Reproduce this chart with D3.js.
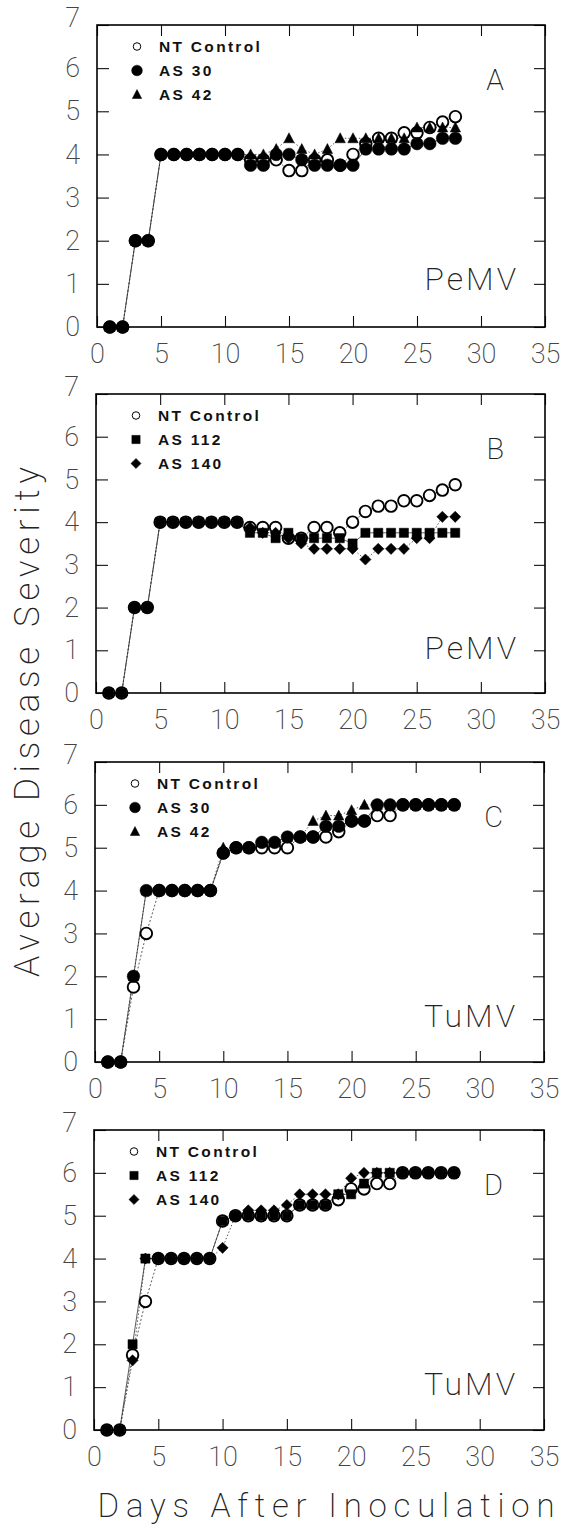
<!DOCTYPE html>
<html>
<head>
<meta charset="utf-8">
<title>Average Disease Severity</title>
<script src="https://cdn.jsdelivr.net/npm/d3@7"></script>
<style>
  body { margin: 0; background: #fff; }
  text { font-family: Roboto, "Liberation Sans", sans-serif; }
</style>
</head>
<body>
<script>
// days after inoculation
var days = [1, 2, 3, 4, 5, 6, 7, 8, 9, 10, 11, 12, 13, 14, 15, 16, 17, 18, 19, 20, 21, 22, 23, 24, 25, 26, 27, 28];
var xTicks = [0, 5, 10, 15, 20, 25, 30, 35];
var yTicks = [0, 1, 2, 3, 4, 5, 6, 7];

// PeMV
var ntA = [0, 0, 2, 2, 4, 4, 4, 4, 4, 4, 4, 3.875, 3.875, 3.875, 3.625, 3.625, 3.875, 3.875, 3.75, 4, 4.25, 4.375, 4.375, 4.5, 4.5, 4.625, 4.75, 4.875];
var as30A = [0, 0, 2, 2, 4, 4, 4, 4, 4, 4, 4, 3.75, 3.75, 4, 4, 3.875, 3.75, 3.75, 3.75, 3.75, 4.125, 4.125, 4.125, 4.125, 4.25, 4.25, 4.375, 4.375];
var as42A = [0, 0, 2, 2, 4, 4, 4, 4, 4, 4, 4, 4, 4, 4.125, 4.375, 4.125, 4, 4.125, 4.375, 4.375, 4.375, 4.375, 4.375, 4.375, 4.625, 4.625, 4.625, 4.625];

var ntB = [0, 0, 2, 2, 4, 4, 4, 4, 4, 4, 4, 3.875, 3.875, 3.875, 3.625, 3.625, 3.875, 3.875, 3.75, 4, 4.25, 4.375, 4.375, 4.5, 4.5, 4.625, 4.75, 4.875];
var as112B = [0, 0, 2, 2, 4, 4, 4, 4, 4, 4, 4, 3.75, 3.75, 3.625, 3.75, 3.625, 3.625, 3.625, 3.625, 3.5, 3.75, 3.75, 3.75, 3.75, 3.75, 3.75, 3.75, 3.75];
var as140B = [0, 0, 2, 2, 4, 4, 4, 4, 4, 4, 4, 3.875, 3.75, 3.75, 3.625, 3.5, 3.375, 3.375, 3.375, 3.375, 3.125, 3.375, 3.375, 3.375, 3.625, 3.625, 4.125, 4.125];

// TuMV
var ntC = [0, 0, 1.75, 3, 4, 4, 4, 4, 4, 4.875, 5, 5, 5, 5, 5, 5.25, 5.25, 5.25, 5.375, 5.625, 5.625, 5.75, 5.75, 6, 6, 6, 6, 6];
var as30C = [0, 0, 2, 4, 4, 4, 4, 4, 4, 4.875, 5, 5, 5.125, 5.125, 5.25, 5.25, 5.25, 5.5, 5.5, 5.625, 5.625, 6, 6, 6, 6, 6, 6, 6];
var as42C = [0, 0, 2, 4, 4, 4, 4, 4, 4, 5, 5, 5, 5.125, 5.125, 5.25, 5.25, 5.625, 5.75, 5.75, 5.875, 6, 6, 6, 6, 6, 6, 6, 6];

var ntD = [0, 0, 1.75, 3, 4, 4, 4, 4, 4, 4.875, 5, 5, 5, 5, 5, 5.25, 5.25, 5.25, 5.375, 5.625, 5.625, 5.75, 5.75, 6, 6, 6, 6, 6];
var as112D = [0, 0, 2, 4, 4, 4, 4, 4, 4, 4.875, 5, 5, 5, 5, 5, 5.25, 5.25, 5.25, 5.5, 5.5, 5.75, 6, 6, 6, 6, 6, 6, 6];
var as140D = [0, 0, 1.625, 4, 4, 4, 4, 4, 4, 4.25, 5, 5.125, 5.125, 5.125, 5.25, 5.5, 5.5, 5.5, 5.5, 5.875, 6, 6, 6, 6, 6, 6, 6, 6];

var panels = [
  { letter: "A", virus: "PeMV", left: 97, right: 545, top: 25, bottom: 327,
    series: [{ name: "NT Control", values: ntA, shape: "open" },
             { name: "AS 42", values: as42A, shape: "triangle" },
             { name: "AS 30", values: as30A, shape: "circle" }],
    legend: ["NT Control", "AS 30", "AS 42"] },
  { letter: "B", virus: "PeMV", left: 96, right: 545, top: 394, bottom: 693,
    series: [{ name: "NT Control", values: ntB, shape: "open" },
             { name: "AS 140", values: as140B, shape: "diamond" },
             { name: "AS 112", values: as112B, shape: "square" }],
    legend: ["NT Control", "AS 112", "AS 140"] },
  { letter: "C", virus: "TuMV", left: 95, right: 544, top: 762, bottom: 1062,
    series: [{ name: "NT Control", values: ntC, shape: "open" },
             { name: "AS 42", values: as42C, shape: "triangle" },
             { name: "AS 30", values: as30C, shape: "circle" }],
    legend: ["NT Control", "AS 30", "AS 42"] },
  { letter: "D", virus: "TuMV", left: 94, right: 544, top: 1130, bottom: 1430,
    series: [{ name: "NT Control", values: ntD, shape: "open" },
             { name: "AS 140", values: as140D, shape: "diamond" },
             { name: "AS 112", values: as112D, shape: "square" }],
    legend: ["NT Control", "AS 112", "AS 140"] }
];

// marker path, s = scale
function shapePath(shape, s) {
  if (shape == "open" || shape == "circle") {
    var r = 6.3 * s;
    return "M" + (-r) + ",0A" + r + "," + r + " 0 1,0 " + r + ",0A" + r + "," + r + " 0 1,0 " + (-r) + ",0Z";
  }
  if (shape == "triangle") {
    var h = 5 * s;
    return "M0," + (-h - 0.5) + "L" + (5.2 * s) + "," + (h - 0.5) + "L" + (-5.2 * s) + "," + (h - 0.5) + "Z";
  }
  if (shape == "square") {
    var a = 4.6 * s;
    return "M" + (-a) + "," + (-a) + "H" + a + "V" + a + "H" + (-a) + "Z";
  }
  // diamond
  var w = 5.6 * s, v = 5.6 * s;
  return "M0," + (-v) + "L" + w + ",0L0," + v + "L" + (-w) + ",0Z";
}

function draw() {
  var svg = d3.select("body").append("svg").attr("width", 562).attr("height", 1525);
  svg.append("rect").attr("width", 562).attr("height", 1525).attr("fill", "#fff");

  panels.forEach(function(p) {
    var x = d3.scaleLinear().domain([0, 35]).range([p.left, p.right]);
    var y = d3.scaleLinear().domain([0, 7]).range([p.bottom, p.top]);
    var g = svg.append("g");

    g.append("g").attr("transform", "translate(0," + p.bottom + ")")
      .call(d3.axisBottom(x).tickValues(xTicks).tickFormat(d3.format("d"))
        .tickSizeInner(-11).tickSizeOuter(0).tickPadding(17));
    g.append("g").attr("transform", "translate(0," + p.top + ")")
      .call(d3.axisTop(x).tickValues(xTicks).tickSizeInner(-11).tickSizeOuter(0).tickFormat(""));
    var leftAxis = g.append("g").attr("transform", "translate(" + p.left + ",0)")
      .call(d3.axisLeft(y).tickValues(yTicks).tickFormat(d3.format("d"))
        .tickSizeInner(-12).tickSizeOuter(0).tickPadding(17));
    g.append("g").attr("transform", "translate(" + p.right + ",0)")
      .call(d3.axisRight(y).tickValues(yTicks).tickSizeInner(-11).tickSizeOuter(0).tickFormat(""));

    g.selectAll(".domain").remove();
    g.selectAll(".tick line").attr("stroke", "#111").attr("stroke-width", 1.1);
    g.selectAll(".tick text").attr("fill", "#444").style("font-size", "27px").style("font-weight", 200)
      .style("font-family", "Roboto, 'Liberation Sans', sans-serif");
    leftAxis.selectAll(".tick text").filter(function(d) { return d == 7; }).attr("dy", "0.05em");

    g.append("rect").attr("x", p.left).attr("y", p.top)
      .attr("width", p.right - p.left).attr("height", p.bottom - p.top)
      .attr("fill", "none").attr("stroke", "#000").attr("stroke-width", 1.6);

    // connecting lines
    var line = d3.line().x(function(d, i) { return x(days[i]); }).y(function(d) { return y(d); });
    var dashes = ["2,2", "1.5,2", null];
    p.series.forEach(function(s, k) {
      g.append("path").datum(s.values).attr("d", line)
        .attr("fill", "none").attr("stroke", "#333").attr("stroke-width", 0.8)
        .attr("stroke-dasharray", dashes[k]);
    });

    // markers
    p.series.forEach(function(s) {
      g.selectAll(null).data(s.values).enter().append("path")
        .attr("transform", function(d, i) { return "translate(" + x(days[i]) + "," + y(d) + ")"; })
        .attr("d", shapePath(s.shape, s.shape == "open" ? 0.92 : 1))
        .attr("fill", s.shape == "open" ? "#fff" : "#000")
        .attr("stroke", "#000")
        .attr("stroke-width", s.shape == "open" ? 1.9 : 0.5);
    });

    // legend
    var shapeOf = {};
    p.series.forEach(function(s) { shapeOf[s.name] = s.shape; });
    p.legend.forEach(function(name, i) {
      var ly = p.top + 21.5 + i * 24;
      var sh = shapeOf[name];
      g.append("path").attr("transform", "translate(" + (p.left + 40) + "," + ly + ")")
        .attr("d", shapePath(sh, sh == "open" ? 0.6 : (sh == "circle" ? 0.85 : 0.9)))
        .attr("fill", sh == "open" ? "#fff" : "#000")
        .attr("stroke", "#000").attr("stroke-width", sh == "open" ? 1 : 0.5);
      g.append("text").attr("x", p.left + 62).attr("y", ly).attr("dy", "0.36em")
        .style("font-family", "'Liberation Sans', Arial, sans-serif")
        .style("font-weight", "bold").style("font-size", "15.5px")
        .style("letter-spacing", "2.3px").attr("fill", "#111")
        .text(name);
    });

    g.append("text").attr("x", p.right - 41).attr("y", p.top + 65)
      .attr("text-anchor", "end").style("font-size", "29px").style("font-weight", 200)
      .attr("fill", "#222").text(p.letter);
    g.append("text").attr("x", p.right - 26).attr("y", p.top + 265)
      .attr("text-anchor", "end").style("font-size", "32px").style("font-weight", 200)
      .style("letter-spacing", "3px").attr("fill", "#222").text(p.virus);
  });

  svg.append("text").attr("transform", "translate(39,722) rotate(-90)")
    .attr("text-anchor", "middle").style("font-size", "35px").style("font-weight", 200)
    .attr("textLength", 510).attr("lengthAdjust", "spacing")
    .attr("fill", "#222").text("Average Disease Severity");

  svg.append("text").attr("x", 326).attr("y", 1517)
    .attr("text-anchor", "middle").style("font-size", "33px").style("font-weight", 200)
    .attr("textLength", 457).attr("lengthAdjust", "spacing")
    .attr("fill", "#222").text("Days After Inoculation");
}

draw();
</script>
</body>
</html>
